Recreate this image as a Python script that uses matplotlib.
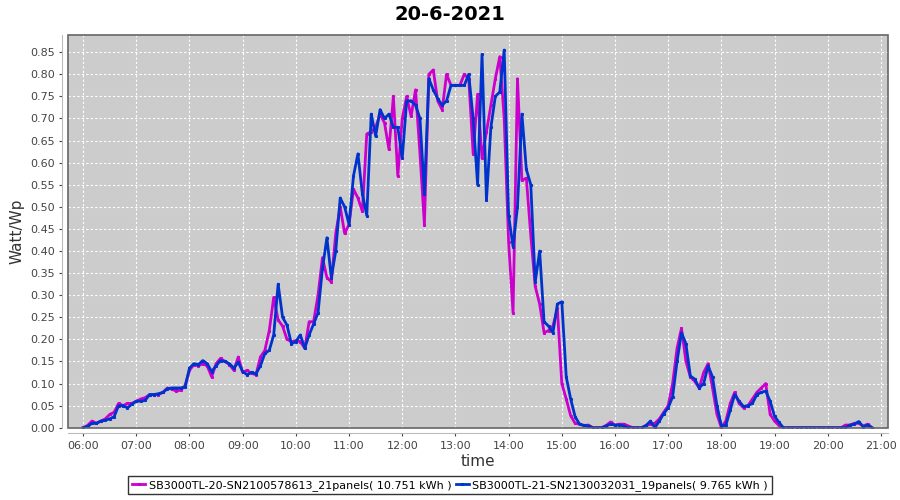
import matplotlib
matplotlib.use("Agg")
import matplotlib.pyplot as plt
import matplotlib.dates as mdates
from matplotlib.patches import Rectangle
import pandas as pd

# Datos: potencia normalizada (Watt/Wp) cada 5 minutos, 06:00 - 20:50
times = pd.date_range("2021-06-20 06:00", "2021-06-20 20:50", freq="5min")

sb20 = [
    # 06:00
    0.0, 0.005, 0.015, 0.01, 0.015, 0.02, 0.03, 0.035, 0.055, 0.05, 0.055, 0.055,
    # 07:00
    0.06, 0.065, 0.068, 0.075, 0.075, 0.075, 0.08, 0.09, 0.087, 0.083, 0.085, 0.095,
    # 08:00
    0.13, 0.143, 0.14, 0.145, 0.14, 0.115, 0.145, 0.157, 0.15, 0.143, 0.13, 0.16,
    # 09:00
    0.125, 0.13, 0.123, 0.12, 0.16, 0.175, 0.22, 0.295, 0.244, 0.23, 0.20, 0.195,
    # 10:00
    0.197, 0.195, 0.18, 0.24, 0.24, 0.30, 0.385, 0.34, 0.33, 0.44, 0.50, 0.44,
    # 11:00
    0.46, 0.54, 0.52, 0.49, 0.665, 0.67, 0.68, 0.71, 0.69, 0.63, 0.75, 0.57,
    # 12:00
    0.70, 0.75, 0.705, 0.765, 0.62, 0.46, 0.80, 0.81, 0.74, 0.72, 0.80, 0.775,
    # 13:00
    0.775, 0.775, 0.80, 0.79, 0.62, 0.755, 0.61, 0.67, 0.73, 0.79, 0.84, 0.70,
    # 14:00
    0.42, 0.26, 0.79, 0.56, 0.565, 0.435, 0.32, 0.28, 0.215, 0.22, 0.23, 0.27,
    # 15:00
    0.10, 0.065, 0.027, 0.01, 0.008, 0.005, 0.006, 0.0, 0.0, 0.0, 0.005, 0.013,
    # 16:00
    0.006, 0.008, 0.008, 0.004, 0.0, 0.0, 0.0, 0.005, 0.008, 0.01, 0.02, 0.035,
    # 17:00
    0.05, 0.10, 0.18, 0.225, 0.15, 0.115, 0.105, 0.09, 0.125, 0.145, 0.09, 0.03,
    # 18:00
    0.0, 0.015, 0.055, 0.08, 0.055, 0.045, 0.05, 0.065, 0.08, 0.09, 0.10, 0.03,
    # 19:00
    0.015, 0.005, 0.0, 0.0, 0.0, 0.0, 0.0, 0.0, 0.0, 0.0, 0.0, 0.0,
    # 20:00
    0.0, 0.0, 0.0, 0.0, 0.006, 0.006, 0.01, 0.01, 0.004, 0.008, 0.0,
]

sb21 = [
    # 06:00
    0.0, 0.003, 0.01, 0.01, 0.015, 0.017, 0.02, 0.025, 0.05, 0.05, 0.045, 0.053,
    # 07:00
    0.06, 0.06, 0.062, 0.075, 0.075, 0.077, 0.08, 0.088, 0.09, 0.09, 0.09, 0.092,
    # 08:00
    0.135, 0.145, 0.143, 0.152, 0.145, 0.127, 0.14, 0.152, 0.15, 0.145, 0.135, 0.148,
    # 09:00
    0.127, 0.12, 0.125, 0.122, 0.14, 0.168, 0.175, 0.21, 0.325, 0.25, 0.232, 0.19,
    # 10:00
    0.195, 0.21, 0.18, 0.21, 0.235, 0.26, 0.36, 0.43, 0.34, 0.40, 0.52, 0.50,
    # 11:00
    0.46, 0.57, 0.62, 0.53, 0.48, 0.71, 0.66, 0.72, 0.70, 0.71, 0.68, 0.68,
    # 12:00
    0.61, 0.74, 0.74, 0.73, 0.70, 0.53, 0.79, 0.765, 0.745, 0.73, 0.74, 0.775,
    # 13:00
    0.775, 0.775, 0.775, 0.80, 0.70, 0.55, 0.845, 0.515, 0.68, 0.75, 0.76, 0.855,
    # 14:00
    0.48, 0.41, 0.50, 0.71, 0.585, 0.55, 0.33, 0.40, 0.24, 0.23, 0.215, 0.28,
    # 15:00
    0.285, 0.115, 0.065, 0.025, 0.008, 0.005, 0.004, 0.0, 0.0, 0.0, 0.004, 0.008,
    # 16:00
    0.006, 0.006, 0.004, 0.0, 0.0, 0.0, 0.0, 0.005, 0.015, 0.0, 0.015, 0.032,
    # 17:00
    0.045, 0.07, 0.15, 0.215, 0.19, 0.117, 0.11, 0.09, 0.10, 0.14, 0.115, 0.05,
    # 18:00
    0.005, 0.005, 0.04, 0.075, 0.06, 0.048, 0.05, 0.055, 0.075, 0.08, 0.083, 0.06,
    # 19:00
    0.026, 0.012, 0.0, 0.0, 0.0, 0.0, 0.0, 0.0, 0.0, 0.0, 0.0, 0.0,
    # 20:00
    0.0, 0.0, 0.0, 0.0, 0.0, 0.006, 0.008, 0.014, 0.002, 0.006, 0.0,
]

labels = [
    "SB3000TL-20-SN2100578613_21panels( 10.751 kWh )",
    "SB3000TL-21-SN2130032031_19panels( 9.765 kWh )",
]
colors = ["#CC00CC", "#0033CC"]

fig = plt.figure(figsize=(9, 5), dpi=100)
ax = fig.add_axes([0.0756, 0.1446, 0.9111, 0.7854])
ax.set_facecolor("#CCCCCC")

for serie, lab, col in zip([sb20, sb21], labels, colors):
    ax.plot(times, serie, color=col, linewidth=2.0, label=lab,
            marker="s", markersize=1.2, solid_joinstyle="round")

# Ejes
ax.set_ylim(0, 0.889)
ax.set_yticks([i * 0.05 for i in range(18)])
ax.yaxis.set_major_formatter(plt.FormatStrFormatter("%.2f"))
ax.set_xlim(pd.Timestamp("2021-06-20 05:43"), pd.Timestamp("2021-06-20 21:08"))
ax.xaxis.set_major_locator(mdates.HourLocator())
ax.xaxis.set_major_formatter(mdates.DateFormatter("%H:%M"))

ax.grid(True, color="white", linestyle=(0, (2, 2)), linewidth=0.8)
ax.set_axisbelow(True)

for s in ["top", "right"]:
    ax.spines[s].set_visible(False)
for s in ["left", "bottom"]:
    ax.spines[s].set_position(("outward", 4))
    ax.spines[s].set_color("#BBBBBB")
ax.add_patch(Rectangle((0, 0), 1, 1, transform=ax.transAxes, fill=False,
                       edgecolor="#666666", linewidth=1.2, clip_on=False, zorder=5))

ax.tick_params(axis="both", labelsize=8, colors="#444444", length=2, width=0.8)

ax.set_xlabel("time", fontsize=11, color="#333333", labelpad=2)
ax.set_ylabel("Watt/Wp", fontsize=11, color="#333333", labelpad=4)
fig.suptitle("20-6-2021", fontsize=14, fontweight="bold", y=0.99)

fig.legend(loc="lower center", bbox_to_anchor=(0.5, 0.0), ncol=2, fontsize=8,
           frameon=True, fancybox=False, edgecolor="black", handlelength=1.2,
           handletextpad=0.3, columnspacing=0.4, borderpad=0.35)

plt.savefig("out.png", dpi=100)
plt.close()
